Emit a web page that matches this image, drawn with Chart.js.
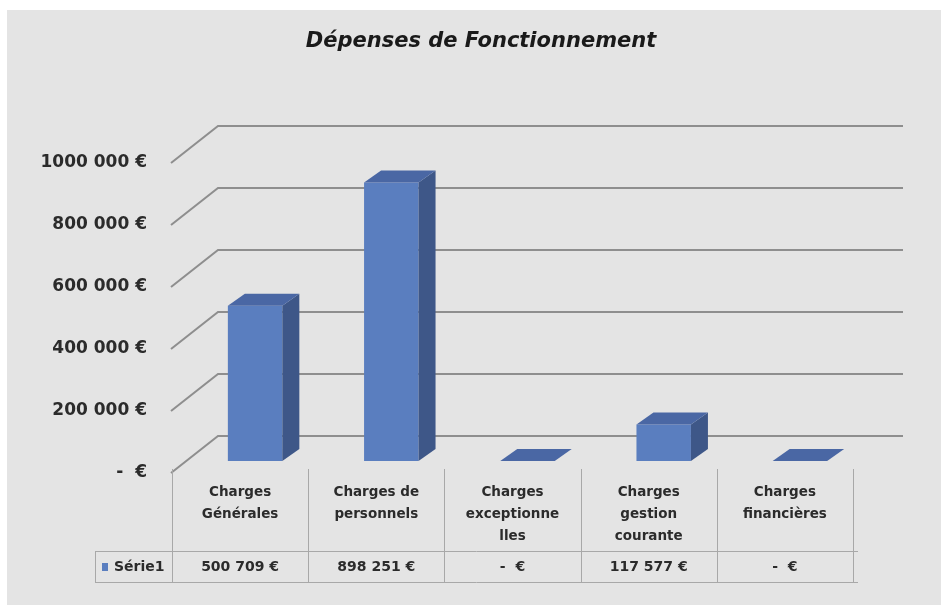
<!DOCTYPE html>
<html>
<head>
<meta charset="utf-8">
<script src="https://cdn.jsdelivr.net/npm/chart.js@4/dist/chart.umd.min.js"></script>
<style>
  html, body { margin: 0; padding: 0; background: #fff; }
  canvas { display: block; }
</style>
</head>
<body>
<canvas id="chartDepenses" width="941" height="606"></canvas>
<script>
const categories = [
  ['Charges', 'Générales'],
  ['Charges de', 'personnels'],
  ['Charges', 'exceptionne', 'lles'],
  ['Charges', 'gestion', 'courante'],
  ['Charges', 'financières'],
];
const seriesName = 'Série1';
const values = [500709, 898251, 0, 117577, 0];
const yTickLabels = ['-  €', '200 000 €', '400 000 €', '600 000 €', '800 000 €', '1000 000 €'];
const chartTitle = 'Dépenses de Fonctionnement';

const FONT = 'DejaVu Sans';
const TEXT = '#2b2b2b';
const BAR_FRONT = '#5a7ebf';
const BAR_SIDE = '#3e5788';
const BAR_TOP = '#4a67a4';
const GRID = '#8e8e8e';
const TABLE_LINE = '#a8a8a8';

// 3d offsets (px)
const BAR_DEPTH = { dx: 17, dy: -12 };
const WALL_BACK = { dx: 31, dy: -25 };
const WALL_FRONT = { dx: -16, dy: 12 };
const TABLE_SHIFT = -15;

const formatEuro = (v) => {
  if (!v) return '-  €';
  return String(Math.round(v)).replace(/\B(?=(\d{3})+(?!\d))/g, ' ') + ' €';
};

const depthPlugin = {
  id: 'depth3d',
  beforeDraw(chart) {
    const { ctx, width, height } = chart;
    ctx.save();
    ctx.fillStyle = '#ffffff';
    ctx.fillRect(0, 0, width, height);
    ctx.fillStyle = '#e4e4e4';
    ctx.fillRect(7, 10, width - 7, height - 11);
    ctx.restore();
  },
  beforeDatasetsDraw(chart) {
    const { ctx, chartArea, scales } = chart;
    const y = scales.y;
    ctx.save();
    // back wall gridlines with their diagonal to the front
    ctx.strokeStyle = GRID;
    ctx.lineWidth = 2;
    y.ticks.forEach((t) => {
      const py = y.getPixelForValue(t.value);
      ctx.beginPath();
      ctx.moveTo(chartArea.left + WALL_FRONT.dx, py + WALL_FRONT.dy);
      ctx.lineTo(chartArea.left + WALL_BACK.dx, py + WALL_BACK.dy);
      ctx.lineTo(chartArea.right + 35, py + WALL_BACK.dy);
      ctx.stroke();
    });

    // data table grid
    const x = scales.x;
    const colW = (chartArea.right - chartArea.left) / categories.length;
    const top = y.getPixelForValue(0) + 8;
    const rowTop = 551;
    const rowBottom = 582;
    ctx.strokeStyle = TABLE_LINE;
    ctx.lineWidth = 1;
    for (let i = 0; i <= categories.length; i++) {
      const px = Math.round(x.getPixelForValue(0) - colW / 2 + i * colW + TABLE_SHIFT) + 0.5;
      ctx.beginPath();
      ctx.moveTo(px, top);
      ctx.lineTo(px, rowBottom);
      ctx.stroke();
    }
    const right = x.getPixelForValue(categories.length - 1) + colW / 2 + TABLE_SHIFT + 5;
    [rowTop, rowBottom].forEach((ry) => {
      ctx.beginPath();
      ctx.moveTo(95, ry + 0.5);
      ctx.lineTo(right, ry + 0.5);
      ctx.stroke();
    });
    ctx.beginPath();
    ctx.moveTo(95.5, rowTop);
    ctx.lineTo(95.5, rowBottom);
    ctx.stroke();
    ctx.restore();
  },
  afterDatasetsDraw(chart) {
    const { ctx } = chart;
    const meta = chart.getDatasetMeta(0);
    ctx.save();
    meta.data.forEach((bar) => {
      const { x, y, base, width } = bar.getProps(['x', 'y', 'base', 'width'], true);
      const l = x - width / 2;
      const r = x + width / 2;
      const { dx, dy } = BAR_DEPTH;
      // side
      if (base - y > 0) {
        ctx.fillStyle = BAR_SIDE;
        ctx.beginPath();
        ctx.moveTo(r, y);
        ctx.lineTo(r + dx, y + dy);
        ctx.lineTo(r + dx, base + dy);
        ctx.lineTo(r, base);
        ctx.closePath();
        ctx.fill();
      }
      // top
      ctx.fillStyle = BAR_TOP;
      ctx.beginPath();
      ctx.moveTo(l, y);
      ctx.lineTo(l + dx, y + dy);
      ctx.lineTo(r + dx, y + dy);
      ctx.lineTo(r, y);
      ctx.closePath();
      ctx.fill();
    });
    ctx.restore();
  },
  afterDraw(chart) {
    const { ctx, scales } = chart;
    const x = scales.x;
    ctx.save();
    // title
    ctx.fillStyle = '#1a1a1a';
    ctx.font = `italic bold 21px ${FONT}`;
    ctx.textAlign = 'center';
    ctx.textBaseline = 'middle';
    ctx.fillText(chartTitle, 481, 42);

    // series row of the data table
    ctx.fillStyle = BAR_FRONT;
    ctx.fillRect(102, 563, 6, 8);
    ctx.fillStyle = TEXT;
    ctx.font = `bold 14px ${FONT}`;
    ctx.textAlign = 'left';
    ctx.fillText(seriesName, 114, 567);
    ctx.textAlign = 'center';
    values.forEach((v, i) => {
      ctx.fillText(formatEuro(v), x.getPixelForValue(i) + TABLE_SHIFT, 567);
    });
    ctx.restore();
  },
};

const ctx = document.getElementById('chartDepenses').getContext('2d');

new Chart(ctx, {
  type: 'bar',
  data: {
    labels: categories,
    datasets: [
      {
        label: seriesName,
        data: values,
        backgroundColor: BAR_FRONT,
        borderWidth: 0,
        categoryPercentage: 1,
        barPercentage: 0.4,
      },
    ],
  },
  options: {
    responsive: false,
    animation: false,
    devicePixelRatio: 1,
    layout: { padding: { top: 151, right: 73, left: 0, bottom: 0 } },
    plugins: {
      legend: { display: false },
      tooltip: { enabled: false },
      title: { display: false },
    },
    scales: {
      y: {
        min: 0,
        max: 1000000,
        grid: { display: false, drawTicks: false },
        border: { display: false },
        afterFit: (scale) => { scale.width = 187; },
        ticks: {
          stepSize: 200000,
          padding: 40,
          labelOffset: 12,
          color: TEXT,
          font: { family: FONT, size: 17, weight: 'bold' },
          callback: (value, index) => yTickLabels[index],
        },
      },
      x: {
        grid: { display: false, drawTicks: false },
        border: { display: false },
        afterFit: (scale) => { scale.height = 145; },
        ticks: {
          autoSkip: false,
          maxRotation: 0,
          minRotation: 0,
          padding: 20,
          labelOffset: TABLE_SHIFT,
          color: TEXT,
          font: { family: FONT, size: 13.5, weight: 'bold', lineHeight: 1.65 },
        },
      },
    },
  },
  plugins: [depthPlugin],
});
</script>
</body>
</html>
